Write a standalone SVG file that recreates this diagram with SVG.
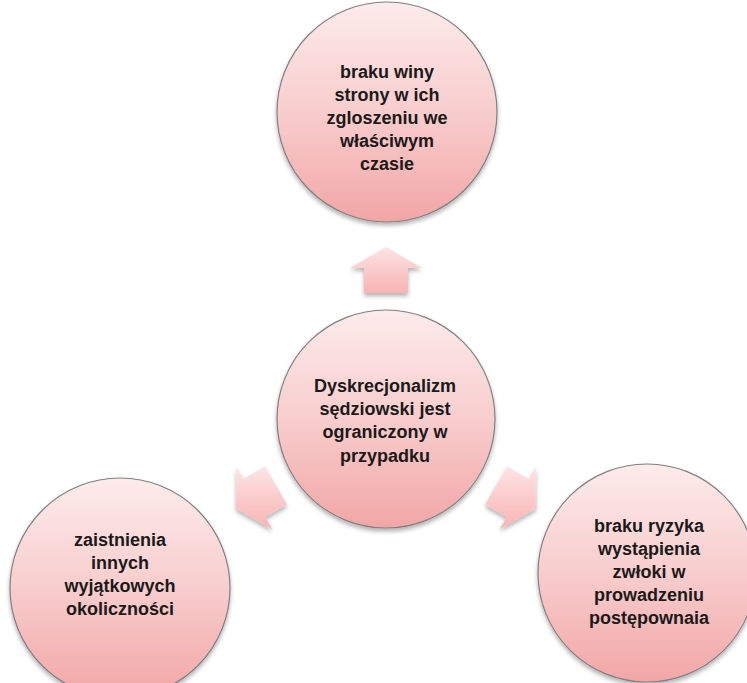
<svg xmlns="http://www.w3.org/2000/svg" width="747" height="683" viewBox="0 0 747 683">
  <defs>
    <linearGradient id="gCircle" x1="0" y1="0" x2="0" y2="1">
      <stop offset="0" stop-color="#fdebeb"/>
      <stop offset="0.5" stop-color="#f8cdcd"/>
      <stop offset="1" stop-color="#f2a6a6"/>
    </linearGradient>
    <linearGradient id="gArrow" x1="0" y1="0" x2="0" y2="1">
      <stop offset="0" stop-color="#fde4e4"/>
      <stop offset="1" stop-color="#f9b3b3"/>
    </linearGradient>
    <filter id="shadow" x="-20%" y="-20%" width="140%" height="140%">
      <feDropShadow dx="0" dy="3" stdDeviation="2" flood-color="#000" flood-opacity="0.3"/>
    </filter>
  </defs>
  <style>
    .circle { fill: url(#gCircle); stroke: #808080; stroke-width: 1.2; filter: url(#shadow); }
    .arrow { fill: url(#gArrow); stroke: none; filter: url(#shadow); }
    .label { font-family: "Liberation Sans", Arial, sans-serif; font-weight: bold; font-size: 18px; fill: #1a1a1a; text-anchor: middle; }
  </style>
  <rect width="747" height="683" fill="#ffffff"/>

  <g id="connectors">
    <path class="arrow" d="M386,247 L422,268 L408,268 L408,293 L364,293 L364,268 L350,268 Z"/>
    <path class="arrow" d="M236.1,508.5 L236.3,466.8 L243.3,479 L264.9,466.4 L286.9,504.6 L265.3,517 L272.3,529.2 Z"/>
    <path class="arrow" d="M535.9,508.5 L535.7,466.8 L528.7,479 L507.1,466.4 L485.1,504.6 L506.7,517 L499.7,529.2 Z"/>
  </g>

  <g id="node-top">
    <circle class="circle" cx="387" cy="112" r="110"/>
    <text class="label" x="387" y="78">braku winy</text>
    <text class="label" x="387" y="101">strony w ich</text>
    <text class="label" x="387" y="124">zgloszeniu we</text>
    <text class="label" x="387" y="147">właściwym</text>
    <text class="label" x="387" y="170">czasie</text>
  </g>

  <g id="node-center">
    <circle class="circle" cx="386" cy="419" r="109"/>
    <text class="label" x="385" y="392">Dyskrecjonalizm</text>
    <text class="label" x="385" y="415">sędziowski jest</text>
    <text class="label" x="385" y="438">ograniczony w</text>
    <text class="label" x="385" y="462">przypadku</text>
  </g>

  <g id="node-left">
    <circle class="circle" cx="120" cy="588" r="110"/>
    <text class="label" x="120" y="546">zaistnienia</text>
    <text class="label" x="120" y="569">innych</text>
    <text class="label" x="120" y="592">wyjątkowych</text>
    <text class="label" x="120" y="615">okoliczności</text>
  </g>

  <g id="node-right">
    <circle class="circle" cx="647" cy="573" r="109"/>
    <text class="label" x="649" y="532">braku ryzyka</text>
    <text class="label" x="649" y="555">wystąpienia</text>
    <text class="label" x="649" y="578">zwłoki w</text>
    <text class="label" x="649" y="601">prowadzeniu</text>
    <text class="label" x="649" y="624">postępownaia</text>
  </g>
</svg>
